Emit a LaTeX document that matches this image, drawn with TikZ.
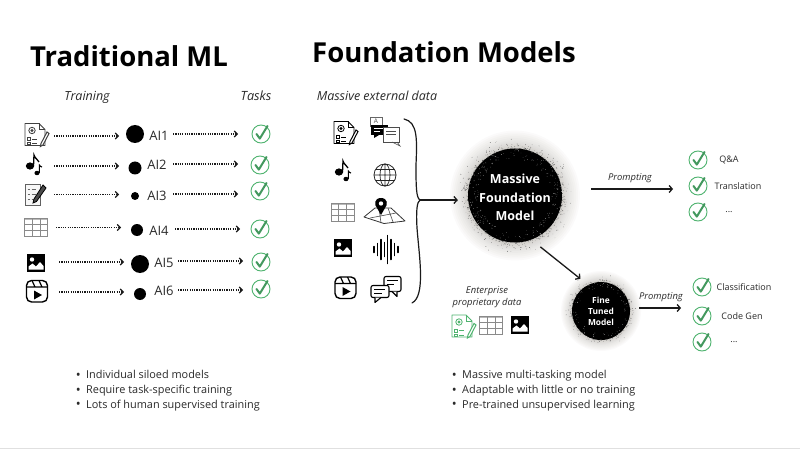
\documentclass[tikz,border=0pt]{standalone}
\usepackage{fontspec}
\setmainfont{Open Sans}
\usetikzlibrary{arrows.meta,calc}
\definecolor{okgreen}{HTML}{4FB36F}
\definecolor{ink}{HTML}{1A1A1A}
\definecolor{grid}{HTML}{8A8A8A}
\definecolor{txt}{HTML}{2A2A2A}
\definecolor{haze}{HTML}{8F8A80}
\newcommand{\bul}{\makebox[11pt][l]{\hspace{.6pt}\raisebox{-.6pt}{\fontsize{13}{13}\selectfont\textbullet}}}
\tikzset{
  x=1pt,y=-1pt,
  dotarrow/.style={ink,line width=1.1pt,dash pattern=on 1.2pt off 1.1pt,-{Straight Barb[length=3pt,width=6pt,line width=1.1pt]}},
  solidarrow/.style={ink,line width=1.3pt,-{Straight Barb[length=3pt,width=7pt,line width=1.3pt]}},
  slot/.style={inner sep=0pt,outer sep=0pt,minimum size=0pt},
  aidot/.style={circle,fill=black,inner sep=0pt,outer sep=0pt},
  ailabel/.style={font=\fontsize{13}{14}\selectfont,text=txt,inner sep=0pt},
  head/.style={font=\fontsize{12.5}{14}\selectfont\itshape,text=txt,inner sep=0pt},
  small/.style={font=\fontsize{9}{10}\selectfont,text=txt,inner sep=0pt},
  prompt/.style={font=\fontsize{9.4}{10}\selectfont\itshape,text=txt,inner sep=0pt},
  bullets/.style={font=\fontsize{10.9}{14.6}\selectfont,text=txt,inner sep=0pt,anchor=north west,align=left},
  title/.style={font=\bfseries\fontsize{27.5}{30}\selectfont,text=black,inner sep=0pt},
  blob/.style={circle,fill=black,inner sep=0pt,text=white,align=center,font=\bfseries},
  pics/check/.style={code={
    \draw[okgreen,line width=.9pt] (0,0) circle (9);
    \draw[okgreen!85!black,line width=2pt,line cap=round,line join=round] (-4.5,0) -- (-1.2,4.6) -- (6.5,-8);
  }},
  pics/doc/.style={code={
    \draw[#1,line width=.9pt,line join=round] (-11,-11) -- (3,-11) -- (9,-5) -- (9,11) -- (-11,11) -- cycle;
    \draw[#1,line width=.7pt] (3,-11) -- (3,-5) -- (9,-5);
    \draw[#1,line width=.8pt] (-4,-4) circle (3.2) (-4,-4) circle (1);
    \draw[#1,line width=.8pt] (-9,3) rectangle (-6,6) (-9,8) rectangle (-6,10.4);
    \draw[#1,line width=.9pt] (-4,4.5) -- (1,4.5) (-4,9) -- (1,9);
    \draw[#1,line width=1pt,fill=white] (5,9) -- (4.4,12) -- (7,10.5) -- (13,-1) -- (11,-2.5) -- cycle;
  }},
  pics/music/.style={code={
    \fill[black] (-4,1) ellipse (4.2 and 3.6);
    \draw[black,line width=1.3pt] (-.5,1) -- (0,-10) .. controls (1,-6) and (4,-6) .. (5,-3);
    \fill[black] (3,8) ellipse (2.6 and 2.2);
    \draw[black,line width=1.1pt] (5.3,8) -- (5.3,0) .. controls (6,1) and (7,2) .. (8,2);
  }},
  pics/form/.style={code={
    \draw[grid!70!black,line width=.9pt,fill=black!3] (-10,-10) -- (5,-10) -- (5,11) -- (-10,11) -- cycle;
    \foreach \yy in {-5,0,5}{\draw[black!60,line width=.7pt] (-7.5,\yy) -- (-5.5,\yy) (-3.5,\yy) -- (1,\yy);}
    \draw[black,line width=.8pt,fill=black!70] (-1,5) -- (-2,9) -- (1.5,7.5) -- (11,-6) -- (8,-9) -- cycle;
  }},
  pics/tbl/.style={code={
    \fill[grid!60] (-11.5,-9) rectangle (11.5,-7);
    \draw[grid,line width=.6pt] (-11.5,-9) rectangle (11.5,9);
    \foreach \yy in {-3,3}{\draw[grid,line width=.6pt] (-11.5,\yy) -- (11.5,\yy);}
    \foreach \xx in {-3.8,3.8}{\draw[grid,line width=.6pt] (\xx,-9) -- (\xx,9);}
  }},
  pics/img/.style={code={
    \fill[black] (-9,-9) rectangle (9,9);
    \fill[white] (-4,-3.5) circle (2.2);
    \fill[white] (-7.5,6.5) -- (-7.5,3.5) -- (-3.5,0.5) -- (0,3.5) -- (4,-1) -- (7.5,3) -- (7.5,6.5) -- cycle;
  }},
  pics/reel/.style={code={
    \draw[black,line width=1.4pt,rounded corners=5pt] (-10.5,-10.5) rectangle (10.5,11);
    \draw[black,line width=1.2pt] (-10.5,-4) -- (10.5,-4) (-5,-10.5) -- (-2,-4) (2,-10.5) -- (5,-4);
    \fill[black] (-3,-0.5) -- (5,4) -- (-3,8.5) -- cycle;
  }},
  pics/trans/.style={code={
    \draw[black!60,line width=.7pt,fill=white] (-15,-13) rectangle (-3,-4);
    \node[inner sep=0pt,font=\fontsize{6.5}{6.5}\selectfont,text=black!70] at (-9,-8.5) {A};
    \fill[black] (-14,-5) rectangle (3,5);
    \fill[black] (-11,5) -- (-6,5) -- (-11,8) -- cycle;
    \draw[white,line width=.6pt] (-11,-2) -- (-2,-2) (-11,1) -- (-5,1);
    \draw[black!70,line width=.7pt,fill=white] (-2,-3) rectangle (14,12);
    \draw[black!70,line width=.6pt] (1,1) -- (11,1) (1,4) -- (11,4);
    \draw[black!70,line width=.6pt] (7,12) -- (15,16) -- (12,12);
  }},
  pics/globe/.style={code={
    \draw[black!85,line width=.8pt] (0,0) circle (11);
    \draw[black!85,line width=.7pt] (0,0) ellipse (5 and 11) (0,-11) -- (0,11) (-11,0) -- (11,0);
    \draw[black!85,line width=.7pt] (-9.5,-5.5) -- (9.5,-5.5) (-9.5,5.5) -- (9.5,5.5);
  }},
  pics/mapicon/.style={code={
    \draw[black!80,line width=.8pt,line join=round,fill=white] (-20,3) -- (-9,-6) -- (7,-6) -- (21,7) -- (0,9.5) -- cycle;
    \draw[black!70,line width=.6pt] (-14,4) -- (12,-1) (-5,-6) -- (-3,9) (4,-6) -- (9,8);
    \fill[black] (-3,-16) .. controls (4,-16) and (4,-9) .. (1,-6) -- (-3,1) -- (-7,-6) .. controls (-10,-9) and (-10,-16) .. (-3,-16) -- cycle;
    \fill[white] (-3,-10.5) circle (2.2);
  }},
  pics/wave/.style={code={
    \foreach \xx/\hh in {-12/3,-8.5/6,-5/10,-1.5/7,1.5/14,5/10,8.5/6,12/3}{
      \draw[black,line width=1.5pt,line cap=round] (\xx,-\hh) -- (\xx,\hh);}
  }},
  pics/chat/.style={code={
    \draw[black,line width=1.1pt,line join=round,fill=white,rounded corners=2pt] (-2,-9) rectangle (15,6);
    \draw[black,line width=1.1pt,fill=white,line join=round] (6,6) -- (11,11) -- (11,6);
    \draw[black,line width=1pt] (1,-5) -- (12,-5) (1,-1) -- (8,-1);
    \draw[black,line width=1.1pt,line join=round,fill=white,rounded corners=2pt] (-15,0) rectangle (3,12);
    \draw[black,line width=1.1pt,fill=white,line join=round] (-11,12) -- (-11,17) -- (-5,12);
    \draw[black,line width=1pt] (-12,4) -- (-1,4) (-12,8) -- (-4,8);
  }},
}
\newcommand{\halo}[4]{% x, y, r, count
  \foreach \q in {1.38,1.34,1.30,1.26,1.22,1.18,1.15,1.12,1.09,1.07,1.05,1.03}{
    \fill[haze,opacity=.035] (#1,#2) circle ({#3*\q});
  }
  \foreach \k in {1,2,...,#4}{
    \pgfmathsetmacro{\ang}{rnd*360}
    \pgfmathsetmacro{\dist}{#3-1.5+(0.02+rnd*rnd*rnd)*0.42*#3}
    \pgfmathsetmacro{\sz}{0.15+rnd*0.28}
    \fill[black!70] ({#1+\dist*cos(\ang)},{#2+\dist*sin(\ang)}) circle (\sz);
  }
}
\newcommand{\specks}[4]{%
  \foreach \k in {1,2,...,#4}{
    \pgfmathsetmacro{\ang}{rnd*360}
    \pgfmathsetmacro{\dist}{#3*(0.78+0.22*rnd)}
    \pgfmathsetmacro{\sz}{0.12+rnd*0.22}
    \fill[white] ({#1+\dist*cos(\ang)},{#2+\dist*sin(\ang)}) circle (\sz);
  }
}
\begin{document}
\begin{tikzpicture}
\pgfmathsetseed{7}
\useasboundingbox (0,0) rectangle (800,449);
\fill[white] (0,0) rectangle (800,449);
\fill[black!12] (0,447.5) rectangle (800,449);

% titles
\node[title] (tradtitle) at (129,56) {Traditional ML};
\node[title] (fndtitle) at (444,52) {Foundation Models};
\node[head] (training) at (87,97) {Training};
\node[head,font=\fontsize{12.7}{14}\selectfont\itshape] (tasks) at (256,96) {Tasks};
\node[head] (massive) at (377,96) {Massive external data};

% left rows
\pic at (36,134.5) {doc=black!75};
\pic at (34,165) {music};
\pic at (35,194) {form};
\pic at (36,227) {tbl};
\pic at (36,263) {img};
\pic at (37,291) {reel};
\foreach \n/\ax/\ay/\cx/\cy/\d/\lx/\ly/\bx/\by/\kx/\ky/\lab in {
 1/54/136/135/134/18/159/136/173/134/261/134/AI1,
 2/54/166/135/168/13/157/165/173/164/260/165/AI2,
 3/54/194.5/135/196/8/157/196/173/194/260/191/AI3,
 4/56/227.5/137/230/12/159/231/175/229/260/229/AI4,
 5/59/262/140/264/18/164/263/178/261/261/262/AI5,
 6/59/292/140/294/12/164/291/178/290/261/289/AI6}{
  \node[slot] (src\n) at (\ax,\ay) {};
  \node[aidot,minimum size=\d pt] (ai\n) at (\cx,\cy) {};
  \node[ailabel] (lab\n) at (\lx,\ly) {\lab};
  \node[slot] (out\n) at (\bx,\by) {};
  \node[slot] (chk\n) at (\kx,\ky) {};
  \pic at (\kx,\ky) {check};
  \draw[dotarrow] (src\n) -- (\cx-16,\ay);
  \draw[dotarrow] (out\n) -- (\bx+65,\by);
}

% right icons
\begin{scope}[shift={(345,132.5)},scale=1.2]
  \pic {doc=black};
\end{scope}
\pic at (385,130) {trans};
\pic at (343,171) {music};
\pic at (385,175) {globe};
\pic at (342.5,212.5) {tbl};
\pic at (384,214) {mapicon};
\pic at (343,248) {img};
\pic at (386,249.5) {wave};
\begin{scope}[shift={(345.5,287.5)},scale=1.15]
  \pic {reel};
\end{scope}
\pic at (386,285.5) {chat};

% brace
\coordinate (bracetip) at (420,200);
\draw[ink,line width=1.2pt,line cap=round] (404,119) .. controls (418,122) and (417,140) .. (416,165)
   .. controls (416,185) and (416,198) .. (bracetip)
   .. controls (417,202) and (416,210) .. (417,228)
   .. controls (419,255) and (426,296) .. (412,303);

% big model
\halo{515}{195.5}{47}{800}
\node[blob,minimum size=94pt] (fm) at (515,195.5) {};
\specks{515}{195.5}{47}{220}
\node[inner sep=0pt,text=white,font=\bfseries\fontsize{12.5}{18.5}\selectfont,align=center] (fmtext) at (515,197.5) {Massive\\Foundation\\Model};
\draw[solidarrow] (bracetip) -- ([xshift=-10pt,yshift=-4.5pt]fm.west);

% fine tuned
\halo{601}{311}{29}{450}
\node[blob,minimum size=58pt] (ft) at (601,311) {};
\specks{601}{311}{29}{80}
\node[inner sep=0pt,text=white,font=\bfseries\fontsize{8.4}{11.3}\selectfont,align=center] (fttext) at (601,311.5) {Fine\\Tuned\\Model};
\draw[solidarrow] ([shift={(-8pt,-18pt)}]fm.south east) -- ([shift={(0pt,11.5pt)}]ft.north west);

% outcomes upper
\node[slot] (p1s) at (591,189) {};
\node[slot] (p1e) at (673,189) {};
\draw[solidarrow] (p1s) -- (p1e);
\node[prompt] (p1) at (630,178) {Prompting};
\foreach \n/\yy/\tx/\word in {1/160/729/{Q\&A},2/186/738/{Translation},3/212/729/{...}}{
  \pic at (698,\yy) {check};
  \node[small] (up\n) at (\tx,\yy) {\word};
}

% outcomes lower
\node[slot] (p2s) at (639,308) {};
\node[slot] (p2e) at (681,308) {};
\draw[solidarrow] (p2s) -- (p2e);
\node[prompt] (p2) at (661,297) {Prompting};
\foreach \n/\yy/\tx/\word in {1/287/744/{Classification},2/316/742/{Code Gen},3/342/734/{...}}{
  \pic at (702,\yy) {check};
  \node[small] (lo\n) at (\tx,\yy) {\word};
}

% enterprise
\node[prompt,align=center,font=\fontsize{9.4}{11.7}\selectfont\itshape] (ent) at (487,297) {Enterprise\\proprietary data};
\begin{scope}[shift={(463,326)},scale=.75]
  \pic {doc=okgreen};
\end{scope}
\pic at (491,325) {tbl};
\pic at (520,325) {img};

% bullets
\node[bullets] (b1) at (75,370.5) {\bul Individual siloed models\\\bul Require task-specific training\\\bul Lots of human supervised training};
\node[bullets] (b2) at (451,370.5) {\bul Massive multi-tasking model\\\bul Adaptable with little or no training\\\bul Pre-trained unsupervised learning};
\end{tikzpicture}
\end{document}
